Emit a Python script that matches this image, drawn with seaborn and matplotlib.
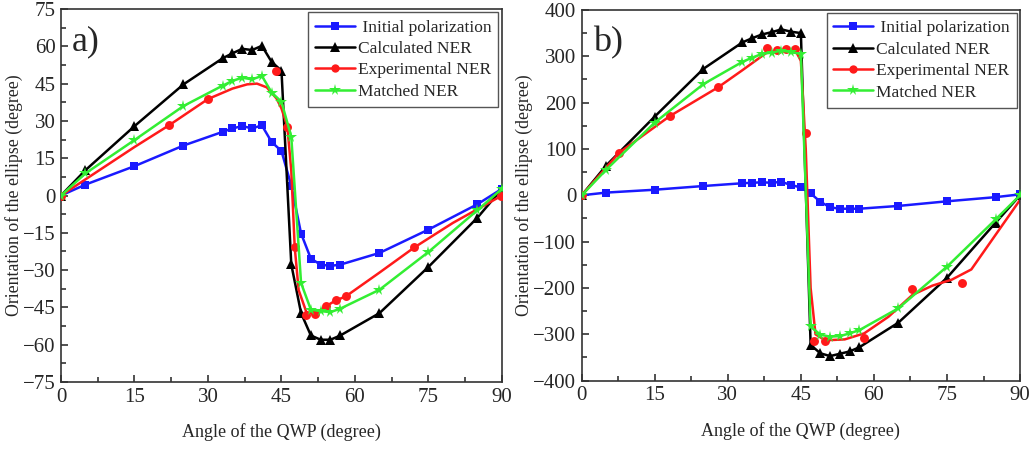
import numpy as np
import pandas as pd
import matplotlib
matplotlib.use("Agg")
import matplotlib.pyplot as plt
from matplotlib.lines import Line2D
from matplotlib.ticker import MultipleLocator, AutoMinorLocator
import seaborn as sns

# ---------------- data: panel a ----------------
a_init_x = [0, 5, 15, 25, 33, 35, 37, 39, 41, 43, 45, 47, 49, 51, 53, 55, 57, 65, 75, 85, 90]
a_init_y = [0, 4.4, 11.8, 20.1, 25.6, 27.0, 27.9, 27.0, 28.2, 21.5, 17.9, 4.0, -15.3, -25.4, -27.8, -28.3, -27.8, -23.1, -13.7, -3.5, 2.7]

a_calc_x = [0, 5, 15, 25, 33, 35, 37, 39, 41, 43, 45, 47, 49, 51, 53, 55, 57, 65, 75, 85, 90]
a_calc_y = [0, 10.2, 27.9, 44.7, 55.2, 57.2, 59.0, 58.5, 60.2, 53.7, 50.2, -27.7, -47.3, -56.3, -58.0, -58.0, -56.3, -47.3, -28.7, -8.9, 2.7]

a_exp_x = [0, 22.1, 30, 43.8, 46.2, 47.7, 50.1, 51.9, 54, 56.1, 58.1, 72.1, 89.9]
a_exp_y = [0, 28.3, 38.8, 50.1, 27.7, -20.7, -48.2, -47.5, -44.6, -42.2, -40.6, -20.9, -0.3]
a_expfit_x = [0, 5, 10, 15, 22.1, 30, 35, 38, 40, 42, 44, 45, 46.2, 47, 47.7, 48.5, 50.1, 51.9, 54, 56.1, 58.1, 65, 72.1, 80, 85, 90]
a_expfit_y = [0, 6.5, 13, 19.5, 28.3, 38.8, 43, 44.7, 45, 43.5, 39, 35, 27.7, 10, -20.7, -38, -47, -47.5, -44.6, -42.2, -40.6, -31, -20.9, -11, -5.5, 0]

a_match_x = [0, 5, 15, 25, 33, 35, 37, 39, 41, 43, 45, 47, 49, 51, 53, 55, 57, 65, 75, 85, 90]
a_match_y = [0, 8.9, 22.3, 36.0, 44.2, 46.1, 47.4, 46.7, 48.1, 41.4, 37.7, 23.6, -35.2, -45.9, -46.5, -46.9, -45.5, -37.9, -22.7, -5.9, 2.7]

# ---------------- data: panel b ----------------
b_init_x = [0, 5, 15, 25, 33, 35, 37, 39, 41, 43, 45, 47, 49, 51, 53, 55, 57, 65, 75, 85, 90]
b_init_y = [0, 5.8, 12, 20, 26, 27, 28, 27, 29, 22, 17, 4, -14, -26, -29, -29, -29, -23, -13, -4, 2]

b_calc_x = [0, 5, 15, 25, 33, 35, 37, 39, 41, 43, 45, 47, 49, 51, 53, 55, 57, 65, 75, 85, 90]
b_calc_y = [0, 64, 170, 273, 330, 339, 347, 352, 358, 353, 350, -323, -341, -347, -342, -337, -328, -275, -178, -59, 0]

b_exp_x = [0, 7.7, 18.1, 28, 38, 40, 42, 43.8, 46.1, 47.7, 50, 58, 67.9, 78]
b_exp_y = [0, 92, 171, 233, 317, 314, 315, 315, 135, -314, -314, -307, -203, -190]
b_expfit_x = [0, 7.7, 18.1, 28, 33, 38, 40, 42, 44, 45, 46, 47, 48, 50, 54, 58, 63, 67.9, 72, 76, 80, 84, 87, 90]
b_expfit_y = [0, 92, 171, 233, 270, 308, 311, 312, 310, 290, 100, -200, -300, -313, -311, -298, -262, -215, -195, -182, -160, -100, -55, -10]

b_match_x = [0, 5, 15, 25, 33, 35, 37, 39, 41, 43, 45, 47, 49, 51, 53, 55, 57, 65, 75, 85, 90]
b_match_y = [0, 55, 157, 240, 288, 297, 305, 308, 312, 309, 305, -283, -301, -305, -304, -298, -291, -244, -154, -52, 0]

labels = [" Initial polarization", "Calculated NER", "Experimental NER", "Matched NER"]
x_ticks = [0, 15, 30, 45, 60, 75, 90]

C_BLUE = "#1a1aff"
C_BLACK = "#000000"
C_RED = "#ff1a1a"
C_GREEN = "#33ee33"

sns.set_theme(style="ticks")
plt.rcParams["font.family"] = ["Liberation Serif", "DejaVu Serif"]

fig = plt.figure(figsize=(10.32, 4.51), dpi=100)
ax_a = fig.add_axes([0.0591, 0.153, 0.4273, 0.827])
ax_b = fig.add_axes([0.5637, 0.156, 0.4247, 0.822])

LW = 1.8
MS = 6


def draw(ax, ix, iy, cx, cy, ex, ey, efx, efy, mx, my, ylim, ystep, tag):
    sns.lineplot(x=ix, y=iy, ax=ax, color=C_BLUE, lw=LW, marker="s", markersize=MS,
                 markeredgewidth=0, sort=False, estimator=None)
    sns.lineplot(x=cx, y=cy, ax=ax, color=C_BLACK, lw=LW, marker="^", markersize=MS + 0.8,
                 markeredgewidth=0, sort=False, estimator=None)
    sns.lineplot(x=efx, y=efy, ax=ax, color=C_RED, lw=LW, sort=False, estimator=None)
    sns.scatterplot(x=ex, y=ey, ax=ax, color=C_RED, marker="o", s=MS ** 2 * 1.15,
                    linewidth=0, zorder=4)
    sns.lineplot(x=mx, y=my, ax=ax, color=C_GREEN, lw=LW, marker="*", markersize=MS + 2.5,
                 markeredgewidth=0, sort=False, estimator=None, zorder=5)

    ax.set_xlim(0, 90)
    ax.set_ylim(*ylim)
    ax.set_xticks(x_ticks)
    ax.yaxis.set_major_locator(MultipleLocator(ystep))
    ax.xaxis.set_minor_locator(AutoMinorLocator(2))
    ax.yaxis.set_minor_locator(AutoMinorLocator(2))
    ax.tick_params(which="both", direction="in", top=False, right=False,
                   labelsize=15, color="#222222", pad=4)
    ax.tick_params(which="major", length=5, width=1.1)
    ax.tick_params(which="minor", length=3.5, width=1.1)
    for s in ax.spines.values():
        s.set_visible(True)
        s.set_linewidth(1.2)
        s.set_color("#333333")
    ax.set_xlabel("Angle of the QWP (degree)", fontsize=13, labelpad=12)
    ax.set_ylabel("Orientation of the ellipse (degree)", fontsize=12.8, labelpad=0)

    handles = [
        Line2D([], [], color=C_BLUE, lw=LW, marker="s", markersize=MS, markeredgewidth=0),
        Line2D([], [], color=C_BLACK, lw=LW, marker="^", markersize=MS + 0.8, markeredgewidth=0),
        Line2D([], [], color=C_RED, lw=LW, marker="o", markersize=MS, markeredgewidth=0),
        Line2D([], [], color=C_GREEN, lw=LW, marker="*", markersize=MS + 2.5, markeredgewidth=0),
    ]
    leg = ax.legend(handles, labels, loc="upper right", fontsize=12.5, frameon=True,
                    fancybox=False, framealpha=1, edgecolor="#555555",
                    borderaxespad=0.2, handlelength=2.3, handletextpad=0.15,
                    labelspacing=0.3, borderpad=0.4)
    leg.get_frame().set_linewidth(1.0)
    ax.text(0.025, 0.955, tag, transform=ax.transAxes, fontsize=26, va="top", ha="left")


draw(ax_a, a_init_x, a_init_y, a_calc_x, a_calc_y, a_exp_x, a_exp_y,
     a_expfit_x, a_expfit_y, a_match_x, a_match_y, (-75, 75), 15, "a)")
draw(ax_b, b_init_x, b_init_y, b_calc_x, b_calc_y, b_exp_x, b_exp_y,
     b_expfit_x, b_expfit_y, b_match_x, b_match_y, (-400, 400), 100, "b)")

fig.savefig("out.png", dpi=100)
